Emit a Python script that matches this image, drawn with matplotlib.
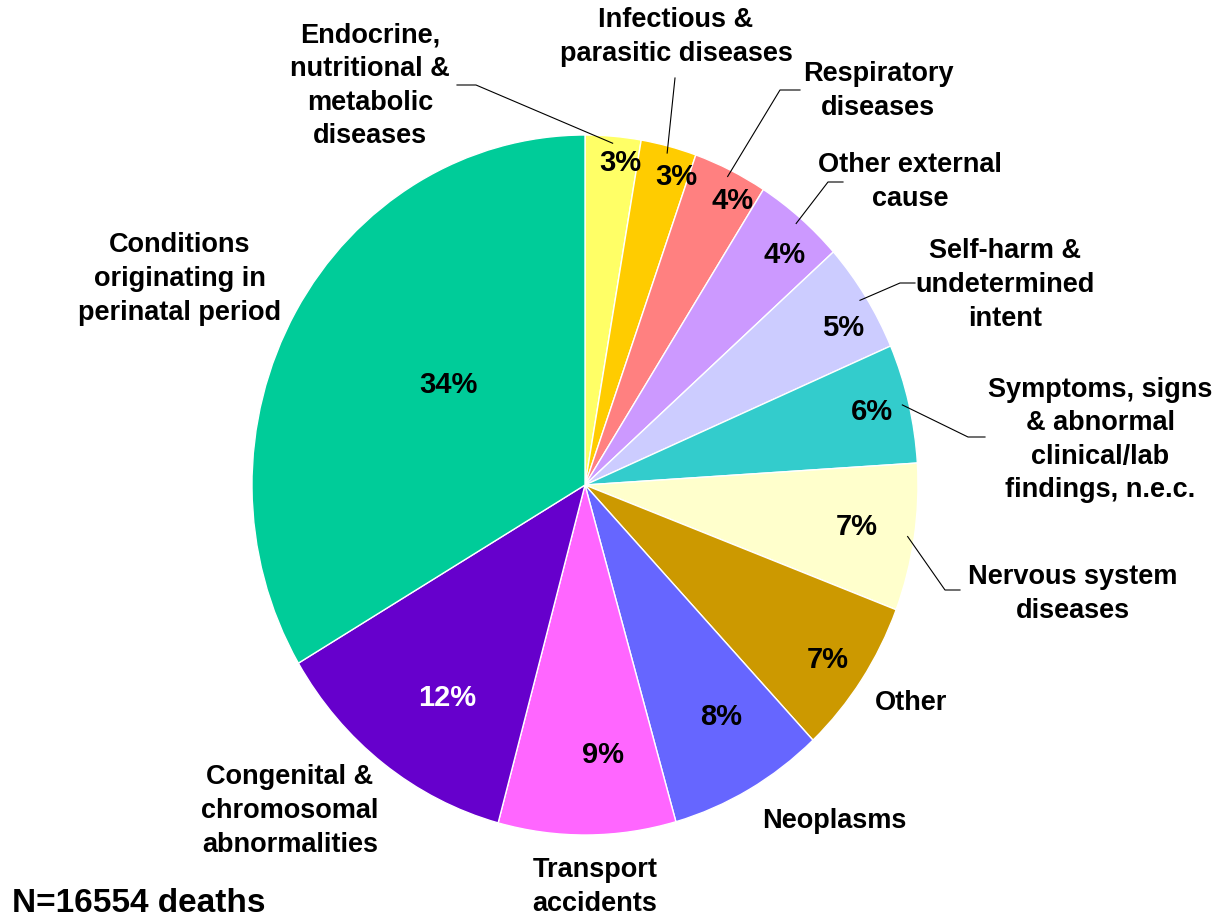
import matplotlib.pyplot as plt
import numpy as np

# -----------------------------
# Data
# -----------------------------
categories = [
    'Endocrine,\nnutritional &\nmetabolic\ndiseases',
    'Infectious &\nparasitic diseases',
    'Respiratory\ndiseases',
    'Other external\ncause',
    'Self-harm &\nundetermined\nintent',
    'Symptoms, signs\n& abnormal\nclinical/lab\nfindings, n.e.c.',
    'Nervous system\ndiseases',
    'Other',
    'Neoplasms',
    'Transport\naccidents',
    'Congenital &\nchromosomal\nabnormalities',
    'Conditions\noriginating in\nperinatal period',
]
shares = [2.7, 2.7, 3.6, 4.4, 5.1, 5.5, 6.8, 7.2, 7.6, 8.6, 12.3, 33.5]
pct_labels = ['3%', '3%', '4%', '4%', '5%', '6%', '7%', '7%', '8%', '9%', '12%', '34%']
colors = ['#FFFF66', '#FFCC00', '#FF8080', '#CC99FF', '#CCCCFF', '#33CCCC',
          '#FFFFCC', '#CC9900', '#6666FF', '#FF66FF', '#6600CC', '#00CC99']
total_deaths = 16554

# -----------------------------
# Layout (pixel positions of the text, pie centre 585,485)
# -----------------------------
W, H = 1218, 921
CX, CY, RX, RY = 585, 485, 333, 350


def to_data(px, py):
    return (px - CX) / RX, (CY - py) / RY


label_pos = [(370, 86), (676, 37), (878, 91), (910, 182), (1005, 285),
             (1100, 440), (1073, 594), (911, 703), (834, 821), (595, 887),
             (290, 811), (180, 279)]
pct_pos = [(620, 163), (676, 177), (733, 201), (785, 255), (843, 328),
           (872, 412), (857, 527), (828, 660), (721, 717), (603, 755),
           (447, 698), (448, 385)]
# elbow / end points of leader lines (None = no line)
leaders = [[(476, 85), (457, 85)], [(675, 78)], [(780, 90), (800, 90)],
           [(828, 182), (843, 182)], [(900, 283), (915, 283)],
           [(968, 437), (985, 437)], [(945, 590), (960, 590)],
           None, None, None, None, None]

plt.rcParams['font.family'] = ['Liberation Sans', 'DejaVu Sans']
plt.rcParams['font.weight'] = 'bold'

fig = plt.figure(figsize=(W / 100, H / 100), dpi=100)
ax = fig.add_axes([0, 0, 1, 1])

wedges, _ = ax.pie(shares, colors=colors, startangle=90, counterclock=False,
                   wedgeprops=dict(edgecolor='white', linewidth=1))
ax.set_aspect('auto')
ax.set_xlim(-CX / RX, (W - CX) / RX)
ax.set_ylim(-(H - CY) / RY, CY / RY)
ax.axis('off')

for i, w in enumerate(wedges):
    x, y = to_data(*label_pos[i])
    ax.text(x, y, categories[i], ha='center', va='center', fontsize=19.5,
            fontweight='bold', linespacing=1.38)
    px, py = to_data(*pct_pos[i])
    ax.text(px, py, pct_labels[i], ha='center', va='center', fontsize=21,
            fontweight='bold', color='white' if i == 10 else 'black')
    if leaders[i]:
        mid = np.deg2rad((w.theta1 + w.theta2) / 2)
        xs = [np.cos(mid) * 0.98]
        ys = [np.sin(mid) * 0.98]
        for p in leaders[i]:
            lx, ly = to_data(*p)
            xs.append(lx)
            ys.append(ly)
        ax.plot(xs, ys, color='black', linewidth=0.8)

fig.text(12 / W, 1 - 903 / H, f'N={total_deaths} deaths', ha='left',
         va='center', fontsize=24, fontweight='bold')

fig.savefig('out.png', dpi=100)
